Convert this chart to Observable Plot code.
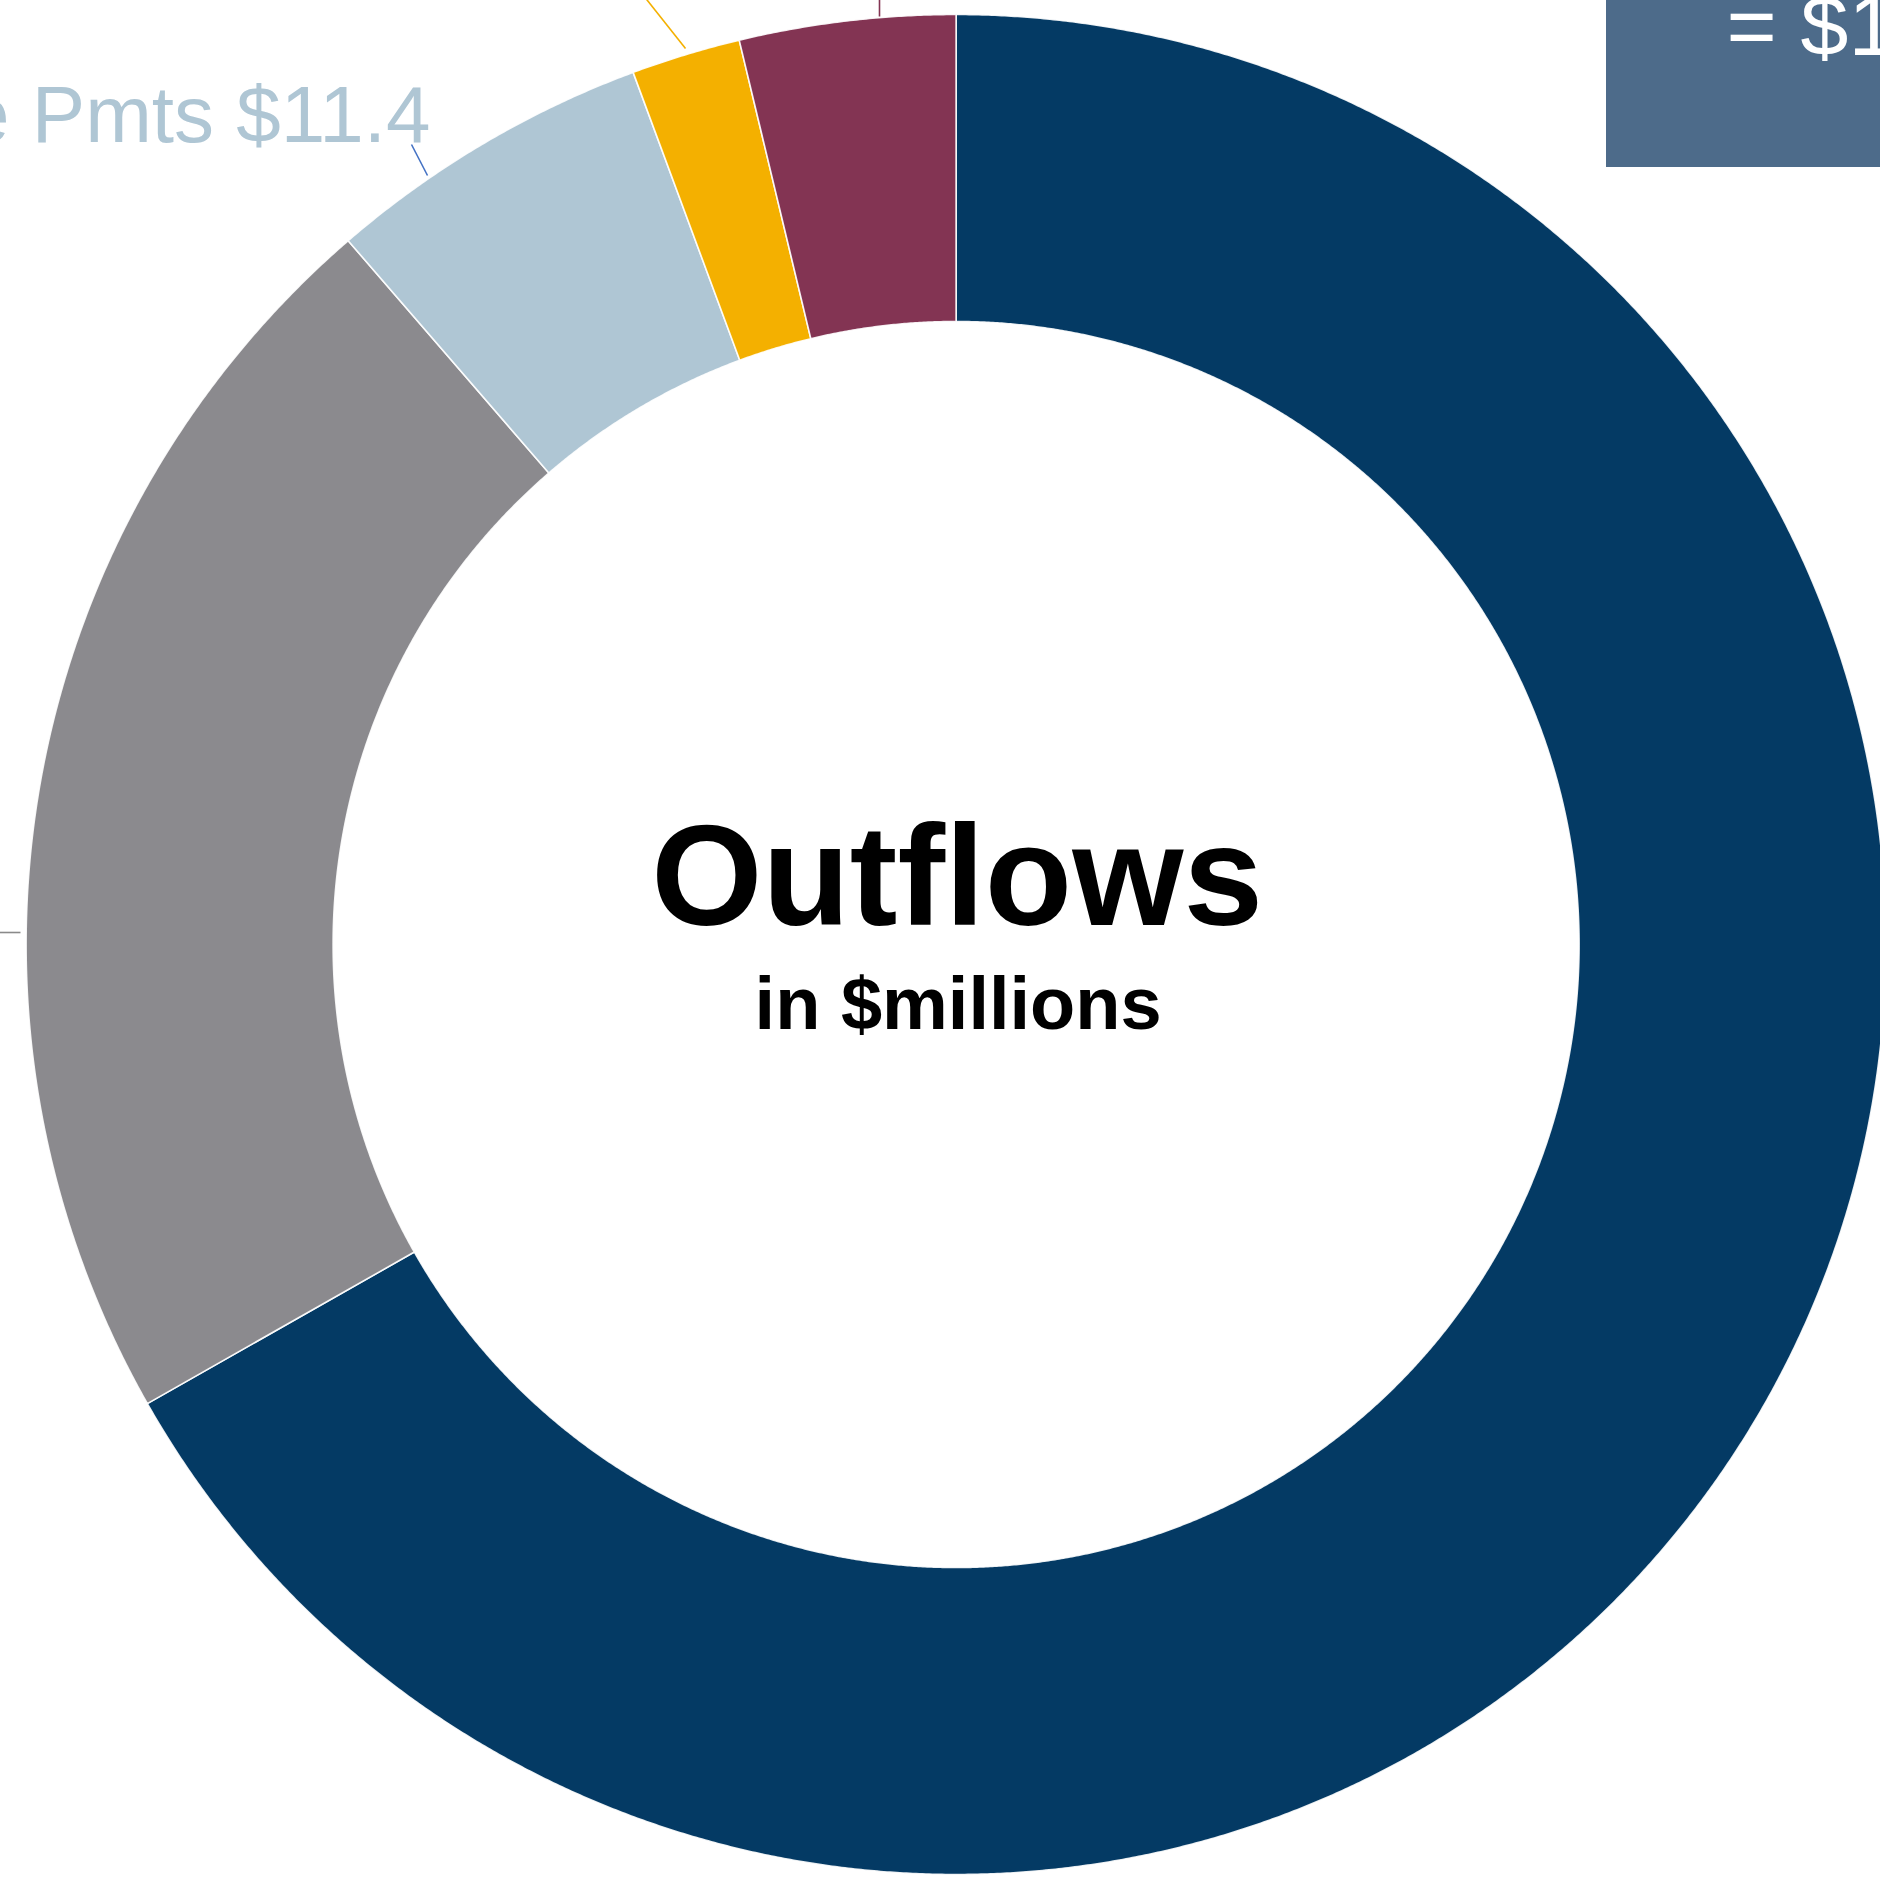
<!DOCTYPE html>
<html><head><meta charset="utf-8">
<script src="https://cdn.jsdelivr.net/npm/d3@7"></script>
<script src="https://cdn.jsdelivr.net/npm/@observablehq/plot@0.6"></script>
<style>html,body{margin:0;padding:0;background:#fff;overflow:hidden}</style>
</head><body><div id="chart"></div>
<script>
// ---- data ----
const categories = ["Operating Outflows", "Other Outflows", "Lease Pmts", "Transfers", "Debt Service"];
const values = [133.7, 43.8, 11.4, 3.8, 7.5];
const colors = ["#043A64", "#8B8A8E", "#AFC6D4", "#F4B000", "#833453"];
const visibleLabel = "Lease Pmts $11.4";
const centerTitle = "Outflows";
const centerSubtitle = "in $millions";
const boxText = "= $1";

// ---- layout ----
const W = 1880, H = 1877;
const CX = 955.6, CY = 944, RO = 930, RI = 623;
const FONT = "Liberation Sans, Arial, Helvetica, sans-serif";

const total = d3.sum(values);
const rad = a => a * Math.PI / 180;
const slices = [];
let acc = 0;
categories.forEach((c, i) => {
  const a0 = acc / total * 360, a1 = (acc + values[i]) / total * 360;
  acc += values[i];
  const n = Math.max(2, Math.ceil((a1 - a0) / 0.2));
  const pts = [];
  for (let k = 0; k <= n; k++) {
    const a = rad(a0 + (a1 - a0) * k / n);
    pts.push({x: CX + RO * Math.sin(a), y: CY - RO * Math.cos(a), key: c});
  }
  for (let k = n; k >= 0; k--) {
    const a = rad(a0 + (a1 - a0) * k / n);
    pts.push({x: CX + RI * Math.sin(a), y: CY - RI * Math.cos(a), key: c});
  }
  slices.push({key: c, color: colors[i], pts});
});

const leaders = [
  {x1: -5, y1: 932, x2: 20, y2: 932, color: "#8A8A8A"},
  {x1: 879, y1: -5, x2: 879, y2: 16, color: "#833453"},
  {x1: 643, y1: -5, x2: 685, y2: 48, color: "#F4B000"},
  {x1: 411, y1: 144, x2: 427, y2: 175, color: "#4472C4"}
];

const marks = [];
for (const s of slices) {
  marks.push(Plot.line(s.pts, {x: "x", y: "y", curve: "linear-closed", fill: s.color, stroke: "#FFFFFF", strokeWidth: 1.6, strokeOpacity: 0.9}));
}
for (const l of leaders) {
  marks.push(Plot.link([l], {x1: "x1", y1: "y1", x2: "x2", y2: "y2", stroke: l.color, strokeWidth: 1.6}));
}
marks.push(Plot.rect([{x1: 1606, x2: 1900, y1: -20, y2: 167}], {x1: "x1", x2: "x2", y1: "y1", y2: "y2", fill: "#4D6B8A"}));
marks.push(Plot.text([boxText], {x: () => 1726, y: () => 54, text: d => d, fill: "#FFFFFF", fontSize: 86, fontFamily: FONT, textAnchor: "start", lineAnchor: "bottom"}));
marks.push(Plot.text([visibleLabel], {x: () => 430, y: () => 141, text: d => d, fill: "#AFC6D4", fontSize: 80, fontFamily: FONT, textAnchor: "end", lineAnchor: "bottom"}));
marks.push(Plot.text([centerTitle], {x: () => CX + 1, y: () => 924, text: d => d, fill: "#000000", fontSize: 143, fontWeight: "bold", fontFamily: FONT, textAnchor: "middle", lineAnchor: "bottom"}));
marks.push(Plot.text([centerSubtitle], {x: () => CX + 2, y: () => 1028, text: d => d, fill: "#000000", fontSize: 74, fontWeight: "bold", fontFamily: FONT, textAnchor: "middle", lineAnchor: "bottom"}));

const chart = Plot.plot({
  width: W, height: H,
  margin: 0,
  x: {domain: [0, W], range: [0, W], axis: null},
  y: {domain: [0, H], range: [0, H], axis: null},
  style: {background: "#FFFFFF", fontFamily: FONT, overflow: "hidden"},
  marks
});
document.getElementById("chart").appendChild(chart);
</script>
</body></html>
